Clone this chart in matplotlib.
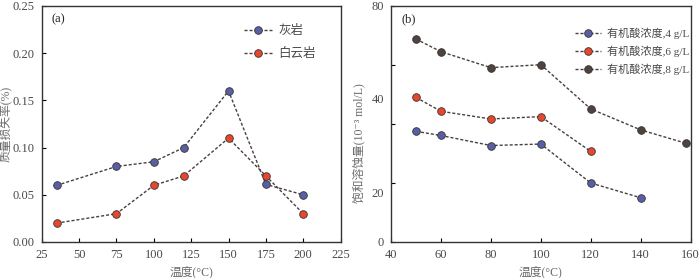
import matplotlib
matplotlib.use('Agg')
import matplotlib.pyplot as plt

plt.rcParams['font.family'] = ['Liberation Serif', 'Noto Sans CJK SC', 'DejaVu Sans']

# panel (a): mass loss rate vs temperature
temp_a = [35, 75, 100, 120, 150, 175, 200]
limestone = [0.06, 0.08, 0.085, 0.10, 0.16, 0.061, 0.05]
dolomite = [0.02, 0.03, 0.06, 0.07, 0.11, 0.07, 0.03]

# panel (b): saturated dissolution vs temperature
temp_4 = [50, 60, 80, 100, 120, 140]
conc_4 = [37.5, 36.1, 32.7, 33.2, 20.0, 15.0]
temp_6 = [50, 60, 80, 100, 120]
conc_6 = [49.0, 44.3, 41.7, 42.5, 30.7]
temp_8 = [50, 60, 80, 100, 120, 140, 158]
conc_8 = [68.8, 64.5, 59.1, 60.1, 45.1, 38.0, 33.5]

blue = '#5660a6'
red = '#e5482e'
dark = '#4d4440'
line_c = '#4a3f3f'
txt_c = '#4a4a4a'
lab_c = '#6a6a6a'

fig = plt.figure(figsize=(7, 2.78), dpi=100)
ax1 = fig.add_axes([0.0596, 0.1295, 0.427, 0.849])
ax2 = fig.add_axes([0.5586, 0.1295, 0.428, 0.849])

style = dict(ls=(0, (2.2, 1.4)), lw=1.0, color=line_c, marker='o', ms=5.5,
             mec='#3a3030', mew=0.6)

ax1.plot(temp_a, limestone, mfc=blue, label='灰岩', **style)
ax1.plot(temp_a, dolomite, mfc=red, label='白云岩', **style)
ax1.set_xlim(25, 225)
ax1.set_ylim(0, 0.25)
ax1.set_xticks(range(25, 226, 25))
ax1.set_yticks([0, 0.05, 0.10, 0.15, 0.20, 0.25])
ax1.set_yticklabels(['0.00', '0.05', '0.10', '0.15', '0.20', '0.25'])
ax1.set_xlabel('温度(°C)', color=lab_c, fontsize=8.5, labelpad=3)
ax1.set_ylabel('质量损失率(%)', color=lab_c, fontsize=8.5, labelpad=1)
ax1.text(0.034, 0.93, '(a)', transform=ax1.transAxes, fontsize=9, color='#222')
ax1.legend(loc='upper left', bbox_to_anchor=(0.64, 0.965), frameon=False,
           fontsize=9, handlelength=2.2, handletextpad=0.5, labelspacing=0.85,
           labelcolor=txt_c)

ax2.plot(temp_4, conc_4, mfc=blue, label='有机酸浓度,4 g/L', **style)
ax2.plot(temp_6, conc_6, mfc=red, label='有机酸浓度,6 g/L', **style)
ax2.plot(temp_8, conc_8, mfc=dark, label='有机酸浓度,8 g/L', **style)
ax2.set_xlim(40, 160)
ax2.set_ylim(0, 80)
ax2.set_xticks(range(40, 161, 20))
ax2.set_yticks([0, 20, 40, 60, 80])
ax2.set_yticklabels(['0', '', '', '', '80'])
# tick labels sit off their tick marks in the original
ax2.set_yticks([16.8, 48.7], minor=True)
ax2.set_yticklabels(['20', '40'], minor=True)
ax2.tick_params(axis='y', which='minor', length=0, labelsize=9, labelcolor=txt_c, pad=5)
ax2.set_xlabel('温度(°C)', color=lab_c, fontsize=8.5, labelpad=3)
ax2.set_ylabel('饱和溶蚀量(10⁻³ mol/L)', color=lab_c, fontsize=8.5, labelpad=4)
ax2.yaxis.set_label_coords(-0.085, 0.42)
ax2.text(0.034, 0.93, '(b)', transform=ax2.transAxes, fontsize=9, color='#222')
ax2.legend(loc='upper left', bbox_to_anchor=(0.58, 0.95), frameon=False,
           fontsize=8, handlelength=2.4, handletextpad=0.5, labelspacing=0.6,
           labelcolor=txt_c)

for ax in (ax1, ax2):
    ax.tick_params(which='major', direction='in', length=3, width=0.8,
                   labelsize=9, labelcolor=txt_c, pad=5)
    for s in ax.spines.values():
        s.set_color('#333')
        s.set_linewidth(1.0)

fig.savefig('out.png', dpi=100)
